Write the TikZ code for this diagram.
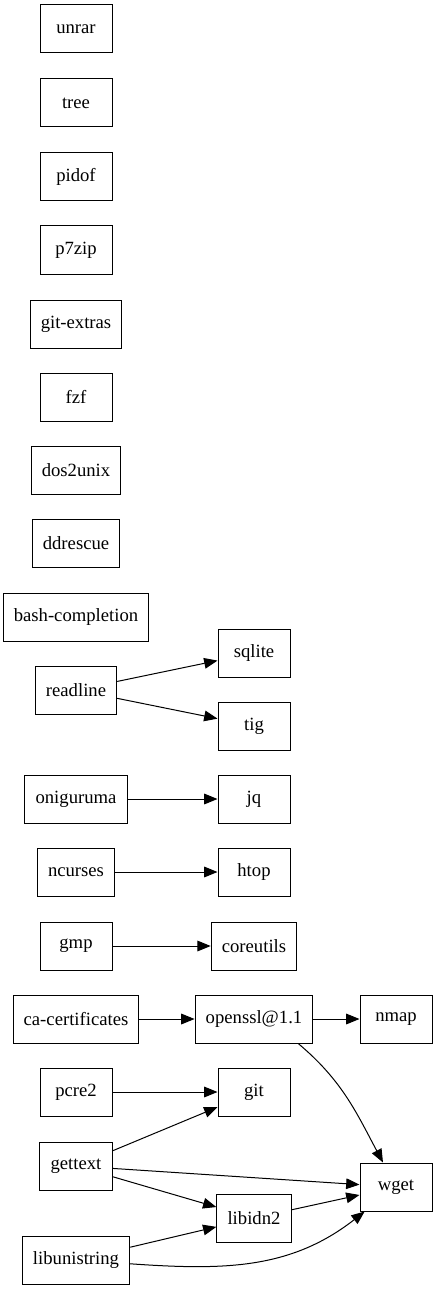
\documentclass[tikz,border=0pt]{standalone}
\usepackage{fontspec}
\setmainfont{Liberation Serif}
\usetikzlibrary{arrows.meta}

\begin{document}
\begin{tikzpicture}[x=0.75pt,y=-0.75pt]
  \tikzset{pkg/.style = {draw,line width=0.75pt,minimum width=54pt,minimum height=36pt,inner xsep=8pt,inner ysep=4pt,font=\fontsize{14}{16}\selectfont}}
  \tikzset{dep/.style = {-{Triangle[length=10pt,width=8pt]},line width=0.75pt}}

\useasboundingbox (0,0) rectangle (437,1291);

\node[pkg] (unrar)  at (76,29) {unrar};
\node[pkg] (tree)  at (76,103) {tree};
\node[pkg] (pidof)  at (76,177) {pidof};
\node[pkg] (p7zip)  at (76,250) {p7zip};
\node[pkg] (gitextras)  at (76,324) {git-extras};
\node[pkg] (fzf)  at (76,397) {fzf};
\node[pkg] (dos2unix)  at (76,470) {dos2unix};
\node[pkg] (ddrescue)  at (76,543) {ddrescue};
\node[pkg] (bashcompl)  at (76,617) {bash-completion};
\node[pkg] (readline)  at (76,690) {readline};
\node[pkg] (oniguruma)  at (76,799) {oniguruma};
\node[pkg] (ncurses)  at (76,872) {ncurses};
\node[pkg] (gmp)  at (76,946) {gmp};
\node[pkg] (cacert)  at (76,1019) {ca-certificates};
\node[pkg] (pcre2)  at (76,1092) {pcre2};
\node[pkg] (gettext)  at (76,1166) {gettext};
\node[pkg] (libunistring)  at (76,1260) {libunistring};

\node[pkg] (sqlite)  at (254,653) {sqlite};
\node[pkg] (tig)  at (254,726) {tig};
\node[pkg] (jq)  at (254,799) {jq};
\node[pkg] (htop)  at (254,872) {htop};
\node[pkg] (coreutils)  at (254,946) {coreutils};
\node[pkg] (openssl)  at (254,1019) {openssl@1.1};
\node[pkg] (git)  at (254,1092) {git};
\node[pkg] (libidn2)  at (254,1218) {libidn2};

\node[pkg] (nmap)  at (396,1019) {nmap};
\node[pkg] (wget)  at (396,1187) {wget};

    \path (readline) edge[dep] (sqlite);
    \path (readline) edge[dep] (tig);
    \path (oniguruma) edge[dep] (jq);
    \path (ncurses) edge[dep] (htop);
    \path (gmp) edge[dep] (coreutils);

      \path (cacert) edge[dep] (openssl);
      \path (openssl) edge[dep] (nmap);
      \path (openssl.-29) edge[dep, out=-40, in=118] (wget);

        \path (pcre2) edge[dep] (git);
        \path (gettext) edge[dep] (git);
        \path (gettext) edge[dep] (wget);
        \path (gettext) edge[dep] (libidn2);
        \path (libidn2) edge[dep] (wget);
        \path (libunistring) edge[dep] (libidn2);
        \path (libunistring) edge[dep, out=-4, in=-142] (wget);

\end{tikzpicture}
\end{document}
